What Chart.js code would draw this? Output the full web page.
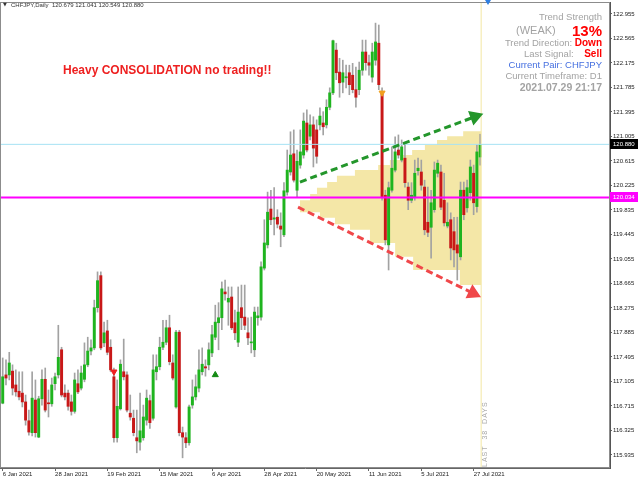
<!DOCTYPE html>
<html>
<head>
<meta charset="utf-8">
<script src="https://cdn.jsdelivr.net/npm/chart.js@4.4.1/dist/chart.umd.min.js"></script>
<style>
  html, body { margin: 0; padding: 0; background: #fff; }
  #wrap { position: relative; width: 640px; height: 480px; font-family: 'Liberation Sans', Arial, sans-serif; }
  #wrap canvas { position: absolute; left: 0; top: 0; }
  .txt { position: absolute; white-space: nowrap; line-height: 1; }
  .gray { color: #a3a3a3; }
  .red { color: #ff0000; font-weight: bold; }
  .info { right: 38px; text-align: right; font-size: 9.5px; }
</style>
</head>
<body>
<div id="wrap">
  <canvas id="chart" width="640" height="480"></canvas>

  <!-- ligne d'en-tete MT4 -->
  <div class="txt" style="left:3px; top:2px; font-size:5px; color:#333; font-family:'DejaVu Sans';">▼</div>
  <div class="txt" style="left:11px; top:2px; font-size:6px; color:#333;">CHFJPY,Daily&nbsp; 120.679 121.041 120.549 120.880</div>

  <!-- marqueur de decalage -->
  <div style="position:absolute; left:485px; top:0; width:0; height:0; border-left:3px solid transparent; border-right:3px solid transparent; border-top:5px solid #2f7fe0;"></div>

  <!-- panneau d'info -->
  <div class="txt info gray" style="top:12px;">Trend Strength</div>
  <div class="txt gray" style="left:516px; top:25px; font-size:11px;">(WEAK)</div>
  <div class="txt red" style="right:38px; top:23px; font-size:15px;">13%</div>
  <div class="txt info" style="top:38px;"><span class="gray">Trend Direction: </span><span class="red" style="font-size:10px;">Down</span></div>
  <div class="txt info" style="top:49px;"><span class="gray">Last Signal:</span>&nbsp;&nbsp;&nbsp;&nbsp;<span class="red" style="font-size:10px;">Sell</span></div>
  <div class="txt info" style="top:60px; color:#4670e0;">Current Pair: CHFJPY</div>
  <div class="txt info gray" style="top:71px;">Current Timeframe: D1</div>
  <div class="txt info gray" style="top:82px; font-weight:bold; font-size:10.5px;">2021.07.29 21:17</div>

  <!-- message -->
  <div class="txt" style="left:63px; top:64px; font-size:12px; font-weight:bold; color:#ee2020;">Heavy CONSOLIDATION no trading!!</div>

  <!-- texte vertical -->
  <div class="txt" style="left:481px; top:467px; font-size:7px; height:8px; line-height:8px; letter-spacing:1px; color:#a8a8a8; transform:rotate(-90deg); transform-origin:left top;">LAST&nbsp; 38&nbsp; DAYS</div>
</div>

<script>
// ---- axes ----
const tickIdx = [0, 16, 32, 48, 64, 80, 96, 112, 128, 144];
const tickLabels = ['6 Jan 2021', '28 Jan 2021', '19 Feb 2021', '15 Mar 2021', '6 Apr 2021',
                    '28 Apr 2021', '20 May 2021', '11 Jun 2021', '5 Jul 2021', '27 Jul 2021'];
const yTicks = [115.935, 116.325, 116.715, 117.105, 117.495, 117.885, 118.275, 118.665, 119.055,
                119.445, 119.835, 120.225, 120.615, 121.005, 121.395, 121.785, 122.175, 122.565, 122.955];

// ---- bougies CHFJPY D1 (open / high / low / close) ----
const openP = [
  116.76, 117.21, 117.21, 117.27, 117.05, 116.95, 116.92, 116.78, 116.48, 116.29,
  116.81, 116.22, 116.83, 117.14, 116.76, 116.75, 117.07, 117.21, 117.61, 116.92,
  116.92, 116.78, 116.63, 117.07, 117.00, 117.14, 117.37, 117.59, 117.64, 118.28,
  118.79, 117.72, 117.91, 117.65, 117.18, 116.21, 116.67, 117.26, 117.21, 116.60,
  116.52, 116.21, 116.14, 116.21, 116.49, 116.80, 116.52, 117.26, 117.34, 117.65,
  117.73, 117.96, 117.40, 116.70, 117.89, 116.29, 116.21, 116.13, 116.73, 116.86,
  117.00, 117.26, 117.34, 117.37, 117.56, 117.81, 118.04, 118.12, 118.53, 118.37,
  118.45, 118.04, 117.73, 118.28, 118.13, 117.88, 117.72, 117.61, 118.12, 118.13,
  118.91, 119.28, 119.85, 119.69, 119.72, 119.58, 119.44, 120.12, 120.44, 120.73,
  120.15, 120.55, 120.71, 121.22, 121.01, 121.19, 121.11, 121.19, 121.22, 121.19,
  121.47, 121.70, 122.38, 122.03, 121.87, 121.94, 122.02, 121.98, 121.75, 121.75,
  122.06, 122.35, 122.18, 121.95, 122.22, 122.49, 121.70, 120.07, 119.28, 120.15,
  120.47, 120.79, 120.63, 120.66, 120.20, 119.99, 120.04, 120.46, 120.44, 120.20,
  119.64, 119.56, 119.84, 120.42, 120.44, 119.99, 119.58, 119.68, 119.49, 119.28,
  119.09, 120.15, 119.87, 120.11, 120.42, 119.89, 120.679
];
const highP = [
  117.48, 117.45, 117.57, 117.37, 117.29, 117.26, 117.26, 116.89, 116.65, 117.26,
  117.13, 116.87, 117.29, 117.32, 116.97, 117.16, 117.24, 118.00, 117.65, 117.05,
  116.97, 116.89, 117.24, 117.29, 117.35, 117.72, 117.81, 117.77, 118.40, 118.85,
  118.85, 118.05, 118.08, 117.77, 117.32, 117.13, 117.45, 117.78, 117.26, 116.89,
  116.65, 116.65, 116.92, 116.73, 116.97, 116.89, 117.53, 117.53, 117.81, 118.08,
  118.08, 118.16, 117.53, 117.92, 117.92, 116.38, 116.29, 116.73, 117.13, 117.21,
  117.61, 117.64, 117.45, 117.72, 118.00, 118.32, 118.36, 118.69, 118.72, 118.61,
  118.61, 118.24, 118.61, 118.64, 118.64, 118.12, 118.13, 118.29, 118.29, 119.01,
  119.68, 120.12, 120.15, 120.19, 119.84, 119.79, 120.27, 120.79, 121.08, 121.11,
  120.79, 121.11, 121.38, 121.43, 121.35, 121.32, 121.27, 121.46, 121.40, 121.59,
  121.78, 122.54, 122.49, 122.25, 122.22, 122.14, 122.14, 122.17, 122.11, 122.19,
  122.54, 122.54, 122.30, 122.49, 122.81, 122.78, 121.78, 120.15, 120.28, 120.84,
  121.00, 121.03, 120.95, 120.87, 120.27, 120.27, 120.63, 120.66, 120.63, 120.31,
  120.20, 120.15, 120.60, 120.63, 120.55, 120.42, 119.95, 119.79, 119.72, 119.72,
  120.28, 120.28, 120.31, 120.63, 120.55, 120.87, 121.041
];
const lowP = [
  116.75, 117.05, 117.13, 116.89, 116.87, 116.81, 116.70, 116.41, 116.25, 116.24,
  116.22, 116.21, 116.73, 116.62, 116.54, 116.71, 116.97, 117.16, 116.86, 116.81,
  116.65, 116.57, 116.60, 116.91, 116.97, 117.10, 117.34, 117.53, 117.61, 118.21,
  117.61, 117.66, 117.53, 117.26, 116.14, 116.14, 116.65, 117.13, 116.62, 116.49,
  116.24, 115.97, 116.01, 116.17, 116.41, 116.36, 116.49, 117.13, 117.29, 117.61,
  117.69, 117.37, 117.13, 116.68, 116.24, 115.89, 116.05, 116.09, 116.68, 116.81,
  116.94, 117.21, 117.19, 117.29, 117.50, 117.77, 117.61, 117.93, 118.40, 118.00,
  117.93, 117.77, 117.66, 117.93, 117.93, 117.69, 117.56, 117.50, 118.00, 118.08,
  118.88, 119.23, 119.60, 119.44, 119.55, 119.25, 119.41, 120.07, 120.39, 120.28,
  120.04, 120.50, 120.66, 120.76, 120.95, 120.52, 120.58, 121.11, 121.03, 121.14,
  121.43, 121.67, 121.91, 121.63, 121.70, 121.78, 121.67, 121.70, 121.47, 121.67,
  121.98, 122.06, 121.98, 121.87, 122.14, 121.75, 119.99, 119.28, 118.88, 120.12,
  120.44, 120.66, 120.60, 120.20, 119.84, 119.95, 119.99, 120.39, 120.15, 119.44,
  119.41, 119.07, 119.80, 120.36, 119.84, 119.58, 119.55, 119.04, 118.93, 118.72,
  119.04, 119.68, 119.80, 119.99, 119.76, 119.80, 120.549
];
const closeP = [
  117.18, 117.16, 117.40, 117.00, 116.94, 116.86, 116.78, 116.49, 116.30, 116.84,
  116.29, 116.83, 117.14, 116.65, 116.75, 117.05, 117.18, 117.49, 116.89, 116.86,
  116.71, 116.63, 117.13, 116.94, 117.24, 117.37, 117.59, 117.64, 118.28, 118.71,
  117.64, 117.88, 117.57, 117.29, 116.21, 116.71, 117.38, 117.18, 116.65, 116.54,
  116.29, 116.16, 116.32, 116.54, 116.84, 116.45, 117.29, 117.34, 117.65, 117.73,
  117.96, 117.42, 117.16, 117.89, 116.29, 116.22, 116.13, 116.70, 116.86, 117.02,
  117.29, 117.38, 117.32, 117.61, 117.85, 118.05, 118.12, 118.58, 118.50, 118.43,
  117.96, 117.88, 118.21, 118.12, 118.00, 117.80, 117.73, 118.21, 118.15, 118.93,
  119.31, 119.80, 119.68, 119.71, 119.61, 119.53, 120.14, 120.47, 120.71, 120.31,
  120.61, 120.76, 121.25, 120.79, 121.19, 120.82, 120.69, 121.33, 121.16, 121.47,
  121.70, 122.53, 122.02, 121.86, 122.02, 121.95, 121.83, 121.75, 121.63, 122.06,
  122.35, 122.18, 122.14, 122.35, 122.51, 121.83, 120.03, 119.36, 120.19, 120.50,
  120.76, 120.71, 120.84, 120.27, 119.99, 120.07, 120.42, 120.50, 120.23, 119.52,
  119.48, 119.95, 120.47, 120.58, 119.88, 119.63, 119.64, 119.23, 119.20, 119.15,
  120.15, 119.76, 120.19, 120.52, 119.95, 120.76, 120.880
];

// ---- niveaux et objets ----
const lastPrice = 120.880;
const levelPrice = 120.034;
const lastDaysIdx = 146.3;

// profil de volume : bornes de prix (haut -> bas) et debut a gauche de chaque tranche
const profileLevels = [121.09, 121.01, 120.95, 120.87, 120.79, 120.71, 120.63, 120.55, 120.47, 120.38,
                       120.28, 120.19, 120.09, 119.99, 119.80, 119.71, 119.61, 119.52, 119.31, 119.09,
                       118.88, 118.64];
const profileLeft = [140.8, 135.9, 132.8, 129.1, 125.2, 121.5, 118.4, 114.8, 107.7, 102.2,
                     99.2, 96.1, 94.0, 90.9, 97.0, 101.6, 106.2, 112.3, 120.0, 125.5, 139.8];

const trendUpX = [90.9, 144.4];
const trendUpY = [120.28, 121.32];
const trendDownX = [90.3, 143.8];
const trendDownY = [119.88, 118.51];

const buyIdx = [65];      const buyPrice = [117.21];
const sellIdx = [34];     const sellPrice = [117.26];
const signalIdx = [116];  const signalPrice = [121.70];

const xMin = -0.83, xMax = 185.7;
const yMin = 115.728, yMax = 123.146;

// ---- construction des donnees pour Chart.js ----
const GREEN = '#1fb41f';
const RED = '#c81818';

const bodies = openP.map((o, i) => ({ x: i, y: [Math.min(o, closeP[i]), Math.max(o, closeP[i])] }));
const wicks = highP.map((h, i) => ({ x: i, y: [lowP[i], h] }));
const bodyColors = openP.map((o, i) => closeP[i] >= o ? GREEN : RED);

// contour du profil (polygone en escalier), commence au point le plus a gauche
const n = profileLeft.length;
let outline = [{ x: profileLeft[0], y: profileLevels[0] },
               { x: lastDaysIdx, y: profileLevels[0] },
               { x: lastDaysIdx, y: profileLevels[n] }];
for (let r = n - 1; r >= 0; r--) {
  outline.push({ x: profileLeft[r], y: profileLevels[r + 1] });
  if (r > 0) outline.push({ x: profileLeft[r], y: profileLevels[r] });
}
let k = 0;
outline.forEach((p, i) => { if (p.x < outline[k].x) k = i; });
const profilePoly = outline.slice(k).concat(outline.slice(0, k));
profilePoly.push({ x: profilePoly[0].x, y: profilePoly[0].y });
profilePoly.push({ x: lastDaysIdx, y: profilePoly[0].y });

const hLine = (p) => [{ x: xMin, y: p }, { x: xMax, y: p }];
const pts = (xs, ys) => xs.map((x, i) => ({ x: x, y: ys[i] }));

// pas de marge automatique autour de la zone de trace
const noPad = (s) => { s.paddingLeft = 0; s.paddingRight = 0; s.paddingTop = 0; s.paddingBottom = 0; };

// cadre + etiquettes de prix sur l'axe
const decorPlugin = {
  id: 'decor',
  afterDraw(chart) {
    const { ctx, chartArea: a, scales } = chart;
    ctx.save();
    ctx.strokeStyle = '#8c8c8c';
    ctx.lineWidth = 1;
    ctx.strokeRect(a.left + 0.5, a.top + 0.5, a.right - a.left - 1, a.bottom - a.top - 1);
    [[lastPrice, '#000000'], [levelPrice, '#ff00ff']].forEach(([p, bg]) => {
      const py = Math.round(scales.y.getPixelForValue(p));
      ctx.fillStyle = bg;
      ctx.fillRect(a.right, py - 5, 28, 10);
      ctx.fillStyle = '#ffffff';
      ctx.font = '6px "Liberation Sans"';
      ctx.textBaseline = 'middle';
      ctx.fillText(p.toFixed(3), a.right + 3, py + 0.5);
    });
    ctx.restore();
  }
};

Chart.defaults.font.family = "'Liberation Sans', Arial, sans-serif";

new Chart(document.getElementById('chart').getContext('2d'), {
  type: 'bar',
  data: {
    datasets: [
      { type: 'line', data: profilePoly, fill: 'shape', backgroundColor: 'rgba(238,218,120,0.65)',
        borderWidth: 0, pointRadius: 0, tension: 0, order: 10 },
      { type: 'bar', data: wicks, backgroundColor: '#a2a2a2', barThickness: 1, grouped: false, order: 6 },
      { type: 'bar', data: bodies, backgroundColor: bodyColors, barThickness: 2.3, minBarLength: 1,
        grouped: false, order: 5 },
      { type: 'line', data: [{ x: lastDaysIdx, y: yMin }, { x: lastDaysIdx, y: yMax }],
        borderColor: '#f3e7a2', borderWidth: 1, pointRadius: 0, order: 4 },
      { type: 'line', data: hLine(lastPrice), borderColor: '#a6e2f4', borderWidth: 1, pointRadius: 0, order: 3 },
      { type: 'line', data: hLine(levelPrice), borderColor: '#ff00ff', borderWidth: 2, pointRadius: 0, order: 2 },
      { type: 'line', data: pts(trendUpX, trendUpY), borderColor: '#23962b', backgroundColor: '#23962b',
        borderWidth: 3, borderDash: [7, 4], pointStyle: 'triangle', pointRadius: [0, 6],
        pointRotation: [0, 70], order: 1 },
      { type: 'line', data: pts(trendDownX, trendDownY), borderColor: '#f0474a', backgroundColor: '#f0474a',
        borderWidth: 3, borderDash: [7, 4], pointStyle: 'triangle', pointRadius: [0, 6],
        pointRotation: [0, 116], order: 1 },
      { type: 'line', data: pts(buyIdx, buyPrice), showLine: false, pointStyle: 'triangle', pointRadius: 3.5,
        backgroundColor: '#138a13', borderColor: '#138a13', order: 0 },
      { type: 'line', data: pts(sellIdx, sellPrice), showLine: false, pointStyle: 'triangle', pointRadius: 3.5,
        pointRotation: 180, backgroundColor: '#f02020', borderColor: '#f02020', order: 0 },
      { type: 'line', data: pts(signalIdx, signalPrice), showLine: false, pointStyle: 'triangle', pointRadius: 3.5,
        pointRotation: 180, backgroundColor: '#f0a020', borderColor: '#f0a020', order: 0 }
    ]
  },
  options: {
    responsive: false,
    animation: false,
    layout: { autoPadding: false, padding: { top: 2, left: 0, right: 0, bottom: 0 } },
    plugins: { legend: { display: false }, tooltip: { enabled: false } },
    scales: {
      x: {
        type: 'linear', min: xMin, max: xMax, offset: false,
        afterBuildTicks: (s) => { s.ticks = tickIdx.map(v => ({ value: v })); },
        afterFit: (s) => { s.height = 12; noPad(s); },
        ticks: {
          autoSkip: false, maxRotation: 0, align: 'start', padding: 0,
          color: '#222', font: { size: 6 },
          callback: (v) => tickLabels[tickIdx.indexOf(v)]
        },
        grid: { drawOnChartArea: false, tickLength: 3, color: '#666', offset: false },
        border: { display: true, color: '#666' }
      },
      y: {
        position: 'right', min: yMin, max: yMax,
        afterBuildTicks: (s) => { s.ticks = yTicks.map(v => ({ value: v })); },
        afterFit: (s) => { s.width = 30; noPad(s); },
        ticks: { color: '#222', font: { size: 6 }, padding: 1, callback: (v) => v.toFixed(3) },
        grid: { drawOnChartArea: false, tickLength: 2, color: '#666' },
        border: { display: true, color: '#555' }
      }
    }
  },
  plugins: [decorPlugin]
});
</script>
</body>
</html>
